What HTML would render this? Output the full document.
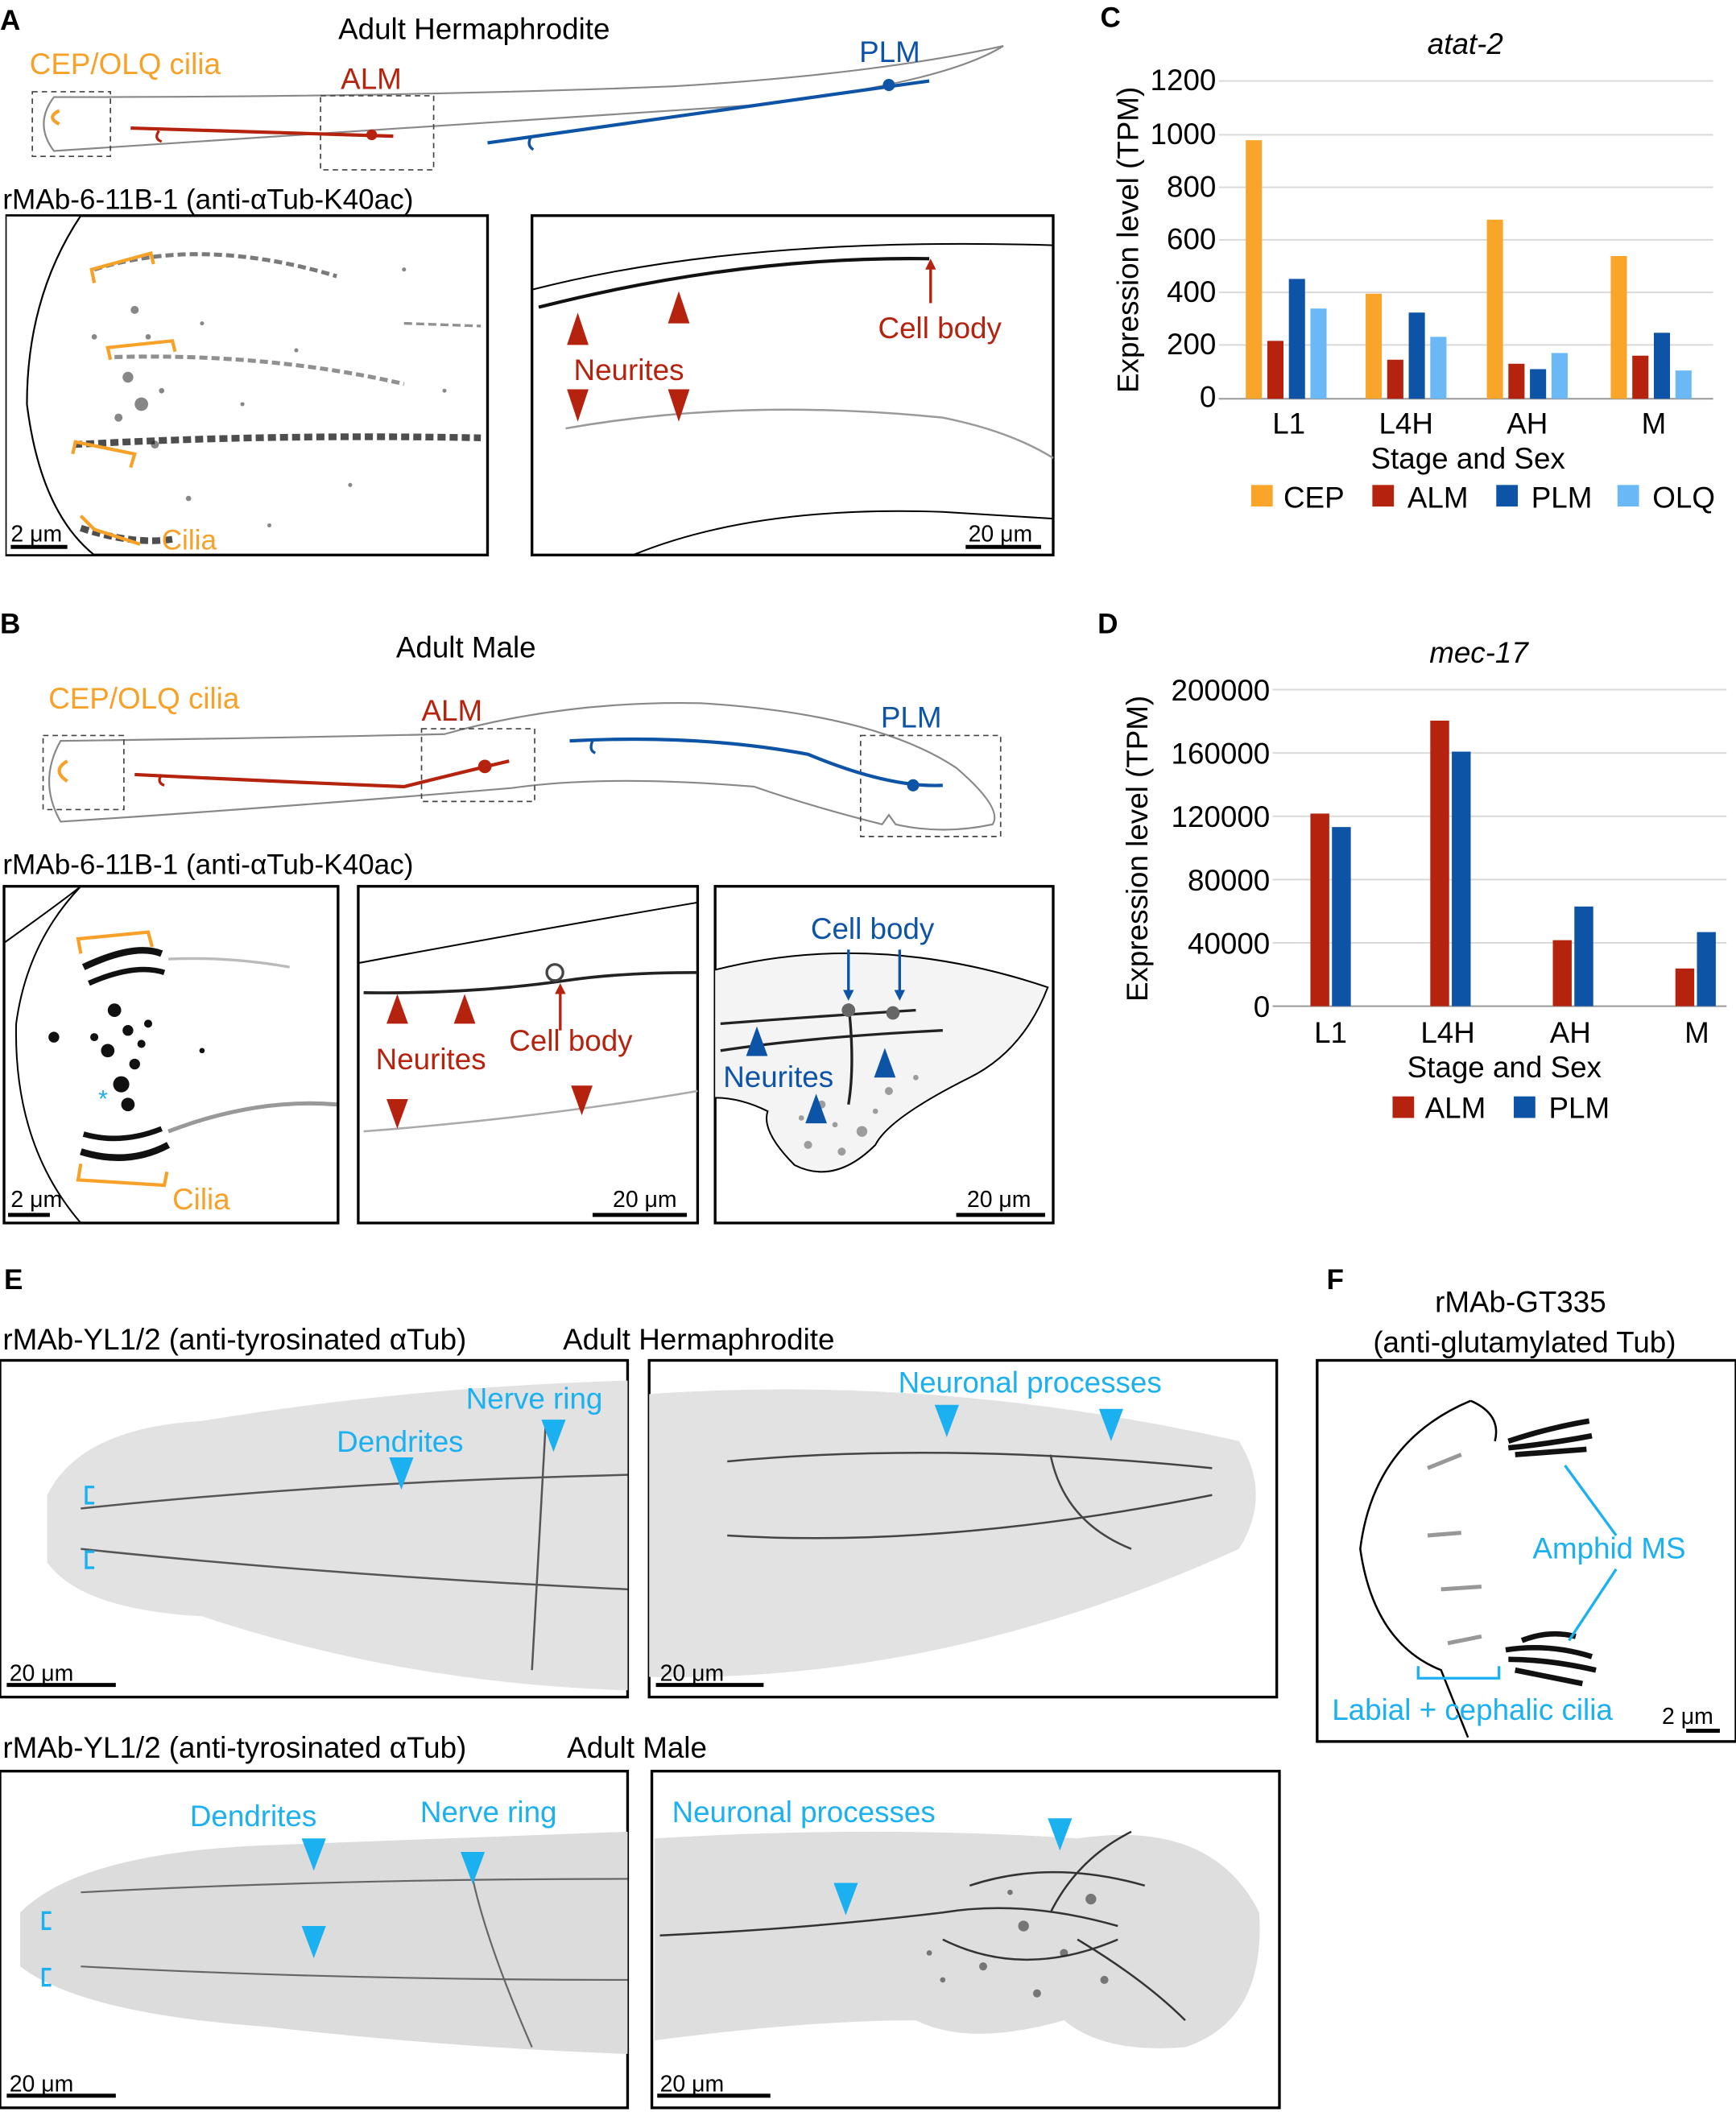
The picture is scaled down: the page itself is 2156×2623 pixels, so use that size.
<!DOCTYPE html>
<html><head><meta charset="utf-8"><style>
html,body{margin:0;padding:0;background:#fff}
svg{display:block}
text{font-family:"Liberation Sans",Arial,sans-serif}
</style></head><body>
<svg width="2156" height="2623" viewBox="0 0 1289 1568" xmlns="http://www.w3.org/2000/svg">
<rect width="1289" height="1568" fill="#fff"/>
<!-- Panel A -->
<text x="0" y="22" font-size="21" font-weight="bold">A</text>
<text x="352" y="29" font-size="22" text-anchor="middle">Adult Hermaphrodite</text>
<path d="M40,72 Q300,72 500,64 Q650,55 745,34 Q700,62 560,78 Q300,95 40,112 Q25,92 40,72Z" fill="none" stroke="#888" stroke-width="1.3"/>
<rect x="24" y="68" width="58" height="48" fill="none" stroke="#444" stroke-dasharray="4,3"/>
<rect x="238" y="71" width="84" height="55" fill="none" stroke="#444" stroke-dasharray="4,3"/>
<text x="22" y="55" font-size="22" fill="#f7a128">CEP/OLQ cilia</text>
<text x="253" y="66" font-size="22" fill="#b5220e">ALM</text>
<text x="638" y="46" font-size="22" fill="#0d53a6">PLM</text>
<path d="M44,82 Q34,87 44,92" fill="none" stroke="#f7a128" stroke-width="2.5"/>
<line x1="97" y1="95" x2="292" y2="101" stroke="#b5220e" stroke-width="2.5"/>
<path d="M118,97 q-4,6 2,8" fill="none" stroke="#b5220e" stroke-width="2"/>
<circle cx="276" cy="100" r="4" fill="#b5220e"/>
<line x1="362" y1="106" x2="690" y2="60" stroke="#0d53a6" stroke-width="2.5"/>
<path d="M394,102 q-3,6 2,9" fill="none" stroke="#0d53a6" stroke-width="2"/>
<circle cx="660" cy="63" r="4.5" fill="#0d53a6"/>
<text x="2" y="155" font-size="21">rMAb-6-11B-1 (anti-αTub-K40ac)</text>
<rect x="5" y="160" width="357" height="252" fill="#fff" stroke="#000" stroke-width="2"/>
<g fill="#555" opacity="0.7">
<circle cx="100" cy="230" r="3"/><circle cx="110" cy="250" r="2"/><circle cx="95" cy="280" r="4"/><circle cx="105" cy="300" r="5"/><circle cx="88" cy="310" r="3"/><circle cx="120" cy="290" r="2"/><circle cx="150" cy="240" r="1.5"/><circle cx="180" cy="300" r="1.5"/><circle cx="220" cy="260" r="1.5"/><circle cx="260" cy="360" r="1.5"/><circle cx="300" cy="200" r="1.5"/><circle cx="140" cy="370" r="2"/><circle cx="200" cy="390" r="1.5"/><circle cx="330" cy="290" r="1.5"/><circle cx="70" cy="250" r="2"/><circle cx="115" cy="330" r="3"/>
</g>
<g fill="none" stroke="#222" stroke-dasharray="6,3">
<path d="M70,200 Q150,175 250,205" stroke-width="3" opacity="0.6"/>
<path d="M85,265 Q200,262 300,285" stroke-width="3" opacity="0.5"/>
<path d="M55,330 Q200,322 357,325" stroke-width="5" opacity="0.8"/>
<path d="M60,392 Q100,405 130,400" stroke-width="5" opacity="0.8"/>
<path d="M300,240 L357,242" stroke-width="2" opacity="0.5"/>
</g>
<path d="M5,160 L60,160 Q20,220 20,300 Q30,380 70,412 L5,412" fill="#fff" stroke="#000" stroke-width="1.3"/>
<path d="M70,210 L68,200 L112,188 L114,196" fill="none" stroke="#f7a128" stroke-width="2.5"/>
<path d="M82,267 L80,258 L128,253 L130,261" fill="none" stroke="#f7a128" stroke-width="2.5"/>
<path d="M97,347 L100,337 L56,328 L54,337" fill="none" stroke="#f7a128" stroke-width="2.5"/>
<path d="M60,383 L70,393 L104,404" fill="none" stroke="#f7a128" stroke-width="2.5"/>
<text x="120" y="408" font-size="21" fill="#f7a128">Cilia</text>
<text x="8" y="402" font-size="17">2 μm</text><line x1="8" y1="406" x2="50" y2="406" stroke="#000" stroke-width="3"/>
<rect x="395" y="160" width="387" height="252" fill="#fff" stroke="#000" stroke-width="2"/>
<path d="M395,215 Q550,175 782,182" fill="none" stroke="#000" stroke-width="1.2"/>
<path d="M400,228 Q550,190 690,192" fill="none" stroke="#111" stroke-width="2.5"/>
<path d="M420,318 Q550,295 700,310 Q750,320 782,340" fill="none" stroke="#999" stroke-width="1.5"/>
<path d="M470,412 Q560,375 700,380 L782,385" fill="none" stroke="#000" stroke-width="1.2"/>
<path d="M429,232 l-8,24 h16Z M504,216 l-8,24 h16Z" fill="#b5220e"/>
<path d="M429,313 l-8,-24 h16Z M504,313 l-8,-24 h16Z" fill="#b5220e"/>
<text x="426" y="282" font-size="22" fill="#b5220e">Neurites</text>
<line x1="691" y1="225" x2="691" y2="196" stroke="#b5220e" stroke-width="2"/><path d="M691,192 l-4,8 h8Z" fill="#b5220e"/>
<text x="652" y="251" font-size="22" fill="#b5220e">Cell body</text>
<text x="719" y="402" font-size="17">20 μm</text><line x1="717" y1="406" x2="773" y2="406" stroke="#000" stroke-width="3"/>
<!-- Panel C -->
<text x="817" y="20" font-size="21" font-weight="bold">C</text>
<text x="1088" y="40" font-size="22" font-style="italic" text-anchor="middle">atat-2</text>
<g stroke="#d9d9d9" stroke-width="1.2">
<line x1="905" y1="60" x2="1272" y2="60"/><line x1="905" y1="100" x2="1272" y2="100"/><line x1="905" y1="139" x2="1272" y2="139"/><line x1="905" y1="178" x2="1272" y2="178"/><line x1="905" y1="217" x2="1272" y2="217"/><line x1="905" y1="256" x2="1272" y2="256"/></g>
<line x1="905" y1="296" x2="1272" y2="296" stroke="#999" stroke-width="1.2"/>
<g font-size="22" text-anchor="end"><text x="903" y="67">1200</text><text x="903" y="107">1000</text><text x="903" y="146">800</text><text x="903" y="185">600</text><text x="903" y="224">400</text><text x="903" y="263">200</text><text x="903" y="302">0</text></g>
<text transform="translate(845,178) rotate(-90)" font-size="22" text-anchor="middle">Expression level (TPM)</text>
<g>
<rect x="925" y="104" width="12" height="192" fill="#f9a52a"/><rect x="941" y="253" width="12" height="43" fill="#b5220e"/><rect x="957" y="207" width="12" height="89" fill="#0d53a6"/><rect x="973" y="229" width="12" height="67" fill="#6ab8f5"/>
<rect x="1014" y="218" width="12" height="78" fill="#f9a52a"/><rect x="1030" y="267" width="12" height="29" fill="#b5220e"/><rect x="1046" y="232" width="12" height="64" fill="#0d53a6"/><rect x="1062" y="250" width="12" height="46" fill="#6ab8f5"/>
<rect x="1104" y="163" width="12" height="133" fill="#f9a52a"/><rect x="1120" y="270" width="12" height="26" fill="#b5220e"/><rect x="1136" y="274" width="12" height="22" fill="#0d53a6"/><rect x="1152" y="262" width="12" height="34" fill="#6ab8f5"/>
<rect x="1196" y="190" width="12" height="106" fill="#f9a52a"/><rect x="1212" y="264" width="12" height="32" fill="#b5220e"/><rect x="1228" y="247" width="12" height="49" fill="#0d53a6"/><rect x="1244" y="275" width="12" height="21" fill="#6ab8f5"/>
</g>
<g font-size="22" text-anchor="middle"><text x="957" y="322">L1</text><text x="1044" y="322">L4H</text><text x="1134" y="322">AH</text><text x="1228" y="322">M</text><text x="1090" y="348">Stage and Sex</text></g>
<g font-size="22"><rect x="929" y="360" width="16" height="16" fill="#f9a52a"/><text x="953" y="377">CEP</text>
<rect x="1019" y="360" width="16" height="16" fill="#b5220e"/><text x="1045" y="377">ALM</text>
<rect x="1111" y="360" width="16" height="16" fill="#0d53a6"/><text x="1137" y="377">PLM</text>
<rect x="1201" y="360" width="16" height="16" fill="#6ab8f5"/><text x="1227" y="377">OLQ</text></g>
<!-- Panel B -->
<text x="0" y="470" font-size="21" font-weight="bold">B</text>
<text x="346" y="488" font-size="22" text-anchor="middle">Adult Male</text>
<path d="M45,550 Q200,548 330,545 Q420,520 520,522 Q650,530 710,570 Q745,600 737,612 Q700,620 665,612 L660,605 L655,612 Q600,598 560,584 Q450,575 380,585 Q200,600 45,610 Q28,580 45,550Z" fill="none" stroke="#888" stroke-width="1.3"/>
<rect x="32" y="546" width="60" height="55" fill="none" stroke="#444" stroke-dasharray="4,3"/>
<rect x="313" y="541" width="84" height="54" fill="none" stroke="#444" stroke-dasharray="4,3"/>
<rect x="639" y="546" width="104" height="75" fill="none" stroke="#444" stroke-dasharray="4,3"/>
<text x="36" y="526" font-size="22" fill="#f7a128">CEP/OLQ cilia</text>
<text x="313" y="535" font-size="22" fill="#b5220e">ALM</text>
<text x="654" y="540" font-size="22" fill="#0d53a6">PLM</text>
<path d="M50,565 Q38,572 50,580" fill="none" stroke="#f7a128" stroke-width="2.5"/>
<path d="M100,575 Q200,580 300,584 Q340,574 378,565" fill="none" stroke="#b5220e" stroke-width="2.5"/>
<path d="M120,575 q-4,6 2,8" fill="none" stroke="#b5220e" stroke-width="2"/>
<circle cx="360" cy="569" r="5" fill="#b5220e"/>
<path d="M423,550 Q520,545 600,560 Q660,585 700,583" fill="none" stroke="#0d53a6" stroke-width="2.5"/>
<path d="M440,550 q-3,7 2,9" fill="none" stroke="#0d53a6" stroke-width="2"/>
<circle cx="678" cy="583" r="4.5" fill="#0d53a6"/>
<text x="2" y="649" font-size="21">rMAb-6-11B-1 (anti-αTub-K40ac)</text>
<rect x="3" y="658" width="248" height="250" fill="#fff" stroke="#000" stroke-width="2"/>
<g fill="#111">
<path d="M62,718 Q100,700 120,708" stroke="#111" stroke-width="5" fill="none"/><path d="M66,730 Q100,715 122,722" stroke="#111" stroke-width="4" fill="none"/>
<path d="M60,855 Q95,866 125,850" stroke="#111" stroke-width="5" fill="none"/><path d="M62,842 Q90,850 120,838" stroke="#111" stroke-width="4" fill="none"/>
<circle cx="85" cy="750" r="5"/><circle cx="95" cy="765" r="4"/><circle cx="80" cy="780" r="5"/><circle cx="100" cy="790" r="4"/><circle cx="90" cy="805" r="6"/><circle cx="105" cy="775" r="3"/><circle cx="70" cy="770" r="3"/><circle cx="110" cy="760" r="3"/><circle cx="95" cy="820" r="5"/><circle cx="40" cy="770" r="4"/><circle cx="150" cy="780" r="2"/>
<path d="M125,840 Q190,815 250,820" stroke="#555" stroke-width="3" fill="none" opacity="0.6"/>
<path d="M125,712 Q170,710 215,718" stroke="#777" stroke-width="2" fill="none" opacity="0.5"/>
</g>
<path d="M3,700 Q45,670 60,658 M60,658 Q20,700 12,760 Q10,850 60,908" fill="none" stroke="#000" stroke-width="1.2"/>
<path d="M60,708 L58,697 L110,692 L113,703" fill="none" stroke="#f7a128" stroke-width="2.5"/>
<path d="M60,864 L58,876 L122,880 L124,870" fill="none" stroke="#f7a128" stroke-width="2.5"/>
<text x="73" y="822" font-size="18" fill="#1bb0f0">*</text>
<text x="128" y="898" font-size="22" fill="#f7a128">Cilia</text>
<text x="8" y="896" font-size="17">2 μm</text><line x1="6" y1="902" x2="37" y2="902" stroke="#000" stroke-width="3"/>
<rect x="266" y="658" width="252" height="250" fill="#fff" stroke="#000" stroke-width="2"/>
<path d="M266,715 Q400,690 518,670" fill="none" stroke="#000" stroke-width="1.2"/>
<path d="M270,737 Q350,738 420,728 Q460,722 518,722" fill="none" stroke="#222" stroke-width="2.2"/>
<circle cx="412" cy="722" r="6" fill="none" stroke="#444" stroke-width="2"/>
<path d="M270,840 Q400,830 518,810" fill="none" stroke="#aaa" stroke-width="1.5"/>
<path d="M295,738 l-8,22 h16Z M345,738 l-8,22 h16Z" fill="#b5220e"/>
<path d="M295,838 l-8,-22 h16Z M432,828 l-8,-22 h16Z" fill="#b5220e"/>
<text x="279" y="794" font-size="22" fill="#b5220e">Neurites</text>
<line x1="416" y1="765" x2="416" y2="734" stroke="#b5220e" stroke-width="2"/><path d="M416,730 l-4,8 h8Z" fill="#b5220e"/>
<text x="378" y="780" font-size="22" fill="#b5220e">Cell body</text>
<text x="455" y="896" font-size="17">20 μm</text><line x1="440" y1="902" x2="510" y2="902" stroke="#000" stroke-width="3"/>
<rect x="531" y="658" width="251" height="250" fill="#fff" stroke="#000" stroke-width="2"/>
<path d="M531,720 Q650,690 778,733 Q760,780 720,800 Q660,830 650,850 Q620,880 590,865 Q565,840 570,825 Q550,815 531,815" fill="#f4f4f4" stroke="#000" stroke-width="1.2"/>
<path d="M535,760 Q600,755 680,750 M535,780 Q600,770 700,765 M630,745 Q635,790 630,820" fill="none" stroke="#222" stroke-width="2"/>
<g fill="#333" opacity="0.45"><circle cx="610" cy="820" r="3"/><circle cx="640" cy="840" r="4"/><circle cx="600" cy="850" r="3"/><circle cx="660" cy="810" r="3"/><circle cx="620" cy="835" r="2"/><circle cx="650" cy="825" r="2"/><circle cx="625" cy="855" r="3"/><circle cx="680" cy="800" r="2"/><circle cx="595" cy="830" r="2"/></g>
<circle cx="663" cy="752" r="5" fill="#666"/><circle cx="630" cy="750" r="5" fill="#666"/>
<line x1="630" y1="705" x2="630" y2="738" stroke="#0d53a6" stroke-width="2"/><path d="M630,743 l-4,-8 h8Z" fill="#0d53a6"/>
<line x1="668" y1="705" x2="668" y2="738" stroke="#0d53a6" stroke-width="2"/><path d="M668,743 l-4,-8 h8Z" fill="#0d53a6"/>
<text x="602" y="697" font-size="22" fill="#0d53a6">Cell body</text>
<path d="M562,762 l-8,22 h16Z M657,778 l-8,22 h16Z M606,812 l-8,22 h16Z" fill="#0d53a6"/>
<text x="537" y="807" font-size="22" fill="#0d53a6">Neurites</text>
<text x="718" y="896" font-size="17">20 μm</text><line x1="710" y1="902" x2="776" y2="902" stroke="#000" stroke-width="3"/>
<!-- Panel D -->
<text x="815" y="470" font-size="21" font-weight="bold">D</text>
<text x="1098" y="492" font-size="22" font-style="italic" text-anchor="middle">mec-17</text>
<g stroke="#d9d9d9" stroke-width="1.2">
<line x1="945" y1="512" x2="1282" y2="512"/><line x1="945" y1="559" x2="1282" y2="559"/><line x1="945" y1="606" x2="1282" y2="606"/><line x1="945" y1="653" x2="1282" y2="653"/><line x1="945" y1="700" x2="1282" y2="700"/></g>
<line x1="945" y1="747" x2="1282" y2="747" stroke="#999" stroke-width="1.2"/>
<g font-size="22" text-anchor="end"><text x="943" y="520">200000</text><text x="943" y="567">160000</text><text x="943" y="614">120000</text><text x="943" y="661">80000</text><text x="943" y="708">40000</text><text x="943" y="755">0</text></g>
<text transform="translate(852,630) rotate(-90)" font-size="22" text-anchor="middle">Expression level (TPM)</text>
<rect x="973" y="604" width="14" height="143" fill="#b5220e"/><rect x="989" y="614" width="14" height="133" fill="#0d53a6"/>
<rect x="1062" y="535" width="14" height="212" fill="#b5220e"/><rect x="1078" y="558" width="14" height="189" fill="#0d53a6"/>
<rect x="1153" y="698" width="14" height="49" fill="#b5220e"/><rect x="1169" y="673" width="14" height="74" fill="#0d53a6"/>
<rect x="1244" y="719" width="14" height="28" fill="#b5220e"/><rect x="1260" y="692" width="14" height="55" fill="#0d53a6"/>
<g font-size="22" text-anchor="middle"><text x="988" y="774">L1</text><text x="1075" y="774">L4H</text><text x="1166" y="774">AH</text><text x="1260" y="774">M</text><text x="1117" y="800">Stage and Sex</text></g>
<g font-size="22"><rect x="1034" y="814" width="16" height="16" fill="#b5220e"/><text x="1058" y="830">ALM</text>
<rect x="1124" y="814" width="16" height="16" fill="#0d53a6"/><text x="1150" y="830">PLM</text></g>
<!-- Panel E -->
<text x="3" y="957" font-size="21" font-weight="bold">E</text>
<text x="2" y="1002" font-size="22">rMAb-YL1/2 (anti-tyrosinated αTub)</text>
<text x="418" y="1002" font-size="22">Adult Hermaphrodite</text>
<rect x="0" y="1010" width="466" height="250" fill="#fff" stroke="#000" stroke-width="2"/>
<path d="M35,1110 Q60,1060 150,1055 Q300,1030 466,1025 L466,1255 Q300,1250 150,1200 Q60,1195 35,1160Z" fill="#e2e2e2"/>
<path d="M60,1120 Q250,1100 466,1095 M60,1150 Q250,1170 466,1180 M405,1060 Q400,1150 395,1240" fill="none" stroke="#555" stroke-width="1.5"/>
<path d="M70,1104 h-6 v12 h6 M70,1152 h-6 v12 h6" fill="none" stroke="#1bb0f0" stroke-width="2"/>
<path d="M289,1082 l9,24 l9,-24Z M402,1054 l9,24 l9,-24Z" fill="#1bb0f0"/>
<text x="250" y="1078" font-size="22" fill="#1bb0f0">Dendrites</text>
<text x="346" y="1046" font-size="22" fill="#1bb0f0">Nerve ring</text>
<text x="7" y="1248" font-size="17">20 μm</text><line x1="5" y1="1251" x2="86" y2="1251" stroke="#000" stroke-width="3"/>
<rect x="482" y="1010" width="466" height="250" fill="#fff" stroke="#000" stroke-width="2"/>
<path d="M482,1035 Q700,1020 920,1070 Q945,1110 920,1150 Q700,1250 482,1245Z" fill="#e2e2e2"/>
<path d="M540,1085 Q700,1070 900,1090 M540,1140 Q700,1150 900,1110 M780,1080 Q790,1130 840,1150" fill="none" stroke="#444" stroke-width="1.5"/>
<path d="M694,1043 l9,24 l9,-24Z M816,1046 l9,24 l9,-24Z" fill="#1bb0f0"/>
<text x="667" y="1034" font-size="22" fill="#1bb0f0">Neuronal processes</text>
<text x="490" y="1248" font-size="17">20 μm</text><line x1="487" y1="1251" x2="567" y2="1251" stroke="#000" stroke-width="3"/>
<text x="2" y="1305" font-size="22">rMAb-YL1/2 (anti-tyrosinated αTub)</text>
<text x="421" y="1305" font-size="22">Adult Male</text>
<rect x="0" y="1315" width="466" height="250" fill="#fff" stroke="#000" stroke-width="2"/>
<path d="M15,1420 Q60,1375 200,1370 Q330,1365 466,1360 L466,1525 Q330,1520 200,1505 Q60,1495 15,1460Z" fill="#dcdcdc"/>
<path d="M60,1405 Q250,1395 466,1395 M60,1460 Q250,1470 466,1470 M350,1390 Q360,1440 395,1520" fill="none" stroke="#666" stroke-width="1.3"/>
<path d="M38,1420 h-6 v12 h6 M38,1462 h-6 v12 h6" fill="none" stroke="#1bb0f0" stroke-width="2"/>
<path d="M224,1365 l9,24 l9,-24Z M224,1430 l9,24 l9,-24Z M342,1375 l9,24 l9,-24Z" fill="#1bb0f0"/>
<text x="141" y="1356" font-size="22" fill="#1bb0f0">Dendrites</text>
<text x="312" y="1353" font-size="22" fill="#1bb0f0">Nerve ring</text>
<text x="7" y="1553" font-size="17">20 μm</text><line x1="5" y1="1556" x2="86" y2="1556" stroke="#000" stroke-width="3"/>
<rect x="484" y="1315" width="466" height="250" fill="#fff" stroke="#000" stroke-width="2"/>
<path d="M486,1365 Q650,1355 800,1365 Q900,1350 935,1420 Q940,1500 880,1520 Q820,1525 790,1500 Q720,1520 680,1500 Q600,1500 486,1515Z" fill="#dedede"/>
<path d="M490,1437 Q600,1432 700,1420 Q760,1410 830,1430 M700,1440 Q760,1470 830,1440 M720,1400 Q780,1380 850,1400 M780,1420 Q800,1380 840,1360 M800,1440 Q850,1470 880,1500" fill="none" stroke="#333" stroke-width="1.5"/>
<g fill="#222" opacity="0.55"><circle cx="760" cy="1430" r="4"/><circle cx="790" cy="1450" r="3"/><circle cx="810" cy="1410" r="4"/><circle cx="730" cy="1460" r="3"/><circle cx="770" cy="1480" r="3"/><circle cx="700" cy="1470" r="2"/><circle cx="820" cy="1470" r="3"/><circle cx="750" cy="1405" r="2"/><circle cx="690" cy="1450" r="2"/></g>
<path d="M619,1398 l9,24 l9,-24Z M778,1350 l9,24 l9,-24Z" fill="#1bb0f0"/>
<text x="499" y="1353" font-size="22" fill="#1bb0f0">Neuronal processes</text>
<text x="490" y="1553" font-size="17">20 μm</text><line x1="488" y1="1556" x2="572" y2="1556" stroke="#000" stroke-width="3"/>
<!-- Panel F -->
<text x="985" y="957" font-size="21" font-weight="bold">F</text>
<text x="1129" y="974" font-size="22" text-anchor="middle">rMAb-GT335</text>
<text x="1132" y="1004" font-size="22" text-anchor="middle">(anti-glutamylated Tub)</text>
<rect x="978" y="1010" width="311" height="283" fill="#fff" stroke="#000" stroke-width="2"/>
<path d="M1092,1040 Q1020,1070 1010,1150 Q1020,1220 1070,1240 L1090,1290" fill="none" stroke="#000" stroke-width="1.5"/>
<path d="M1092,1040 Q1115,1050 1110,1070" fill="none" stroke="#000" stroke-width="1.5"/>
<g stroke="#111" stroke-width="4" fill="none"><path d="M1120,1070 Q1150,1060 1180,1055"/><path d="M1120,1075 Q1150,1072 1182,1066"/><path d="M1125,1080 Q1150,1078 1178,1076"/><path d="M1118,1225 Q1150,1220 1182,1230"/><path d="M1120,1232 Q1150,1232 1185,1240"/><path d="M1125,1240 Q1150,1245 1175,1250"/><path d="M1130,1218 Q1150,1210 1170,1215"/></g>
<g stroke="#555" stroke-width="3" opacity="0.6"><line x1="1060" y1="1090" x2="1085" y2="1080"/><line x1="1060" y1="1140" x2="1085" y2="1138"/><line x1="1070" y1="1180" x2="1100" y2="1178"/><line x1="1075" y1="1220" x2="1100" y2="1215"/></g>
<line x1="1162" y1="1088" x2="1200" y2="1140" stroke="#1bb0f0" stroke-width="2"/>
<line x1="1165" y1="1218" x2="1200" y2="1165" stroke="#1bb0f0" stroke-width="2"/>
<text x="1138" y="1157" font-size="22" fill="#1bb0f0">Amphid MS</text>
<path d="M1053,1237 v9 h60 v-9" fill="none" stroke="#1bb0f0" stroke-width="2"/>
<text x="989" y="1277" font-size="22" fill="#1bb0f0">Labial + cephalic cilia</text>
<text x="1234" y="1280" font-size="17">2 μm</text><line x1="1252" y1="1285" x2="1277" y2="1285" stroke="#000" stroke-width="3"/>
</svg>
</body></html>
